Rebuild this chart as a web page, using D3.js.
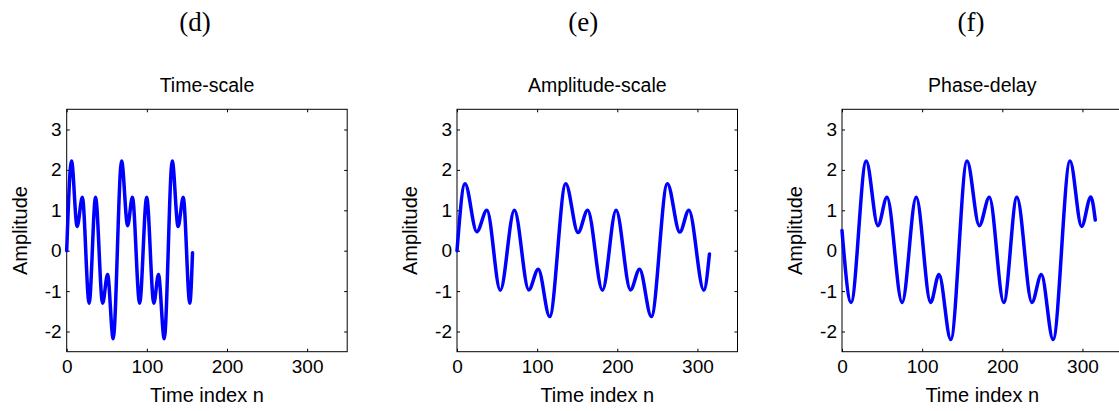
<!DOCTYPE html>
<html><head><meta charset="utf-8">
<script src="https://cdn.jsdelivr.net/npm/d3@7"></script>
<style>body{margin:0;background:#fff}svg{display:block}</style>
</head><body>
<svg id="chart" width="1119" height="411"></svg>
<script>
// ---- data ----
const panelLetters = ["(d)", "(e)", "(f)"];
const panelTitles = ["Time-scale", "Amplitude-scale", "Phase-delay"];
const xLabel = "Time index n";
const yLabel = "Amplitude";
const xTicks = [0, 100, 200, 300];
const yTicks = [-2, -1, 0, 1, 2, 3];
const xDomain = [0, 350];
const yDomain = [-2.5, 3.5];

// Time-scale series
const timeScaleN = [0, 6, 13, 19.5, 28, 36, 44.8, 51, 58, 68.5, 76, 82, 91, 99.8, 108.7, 114.5, 121.7, 131.7, 139, 145.4, 153.6, 157];
const timeScaleV = [0, 2.22, 0.6, 1.32, -1.3, 1.32, -1.3, -0.59, -2.18, 2.22, 0.62, 1.32, -1.3, 1.32, -1.3, -0.59, -2.18, 2.22, 0.6, 1.32, -1.3, -0.05];

// Amplitude-scale series
const ampScaleN = [0, 10, 24.7, 37.3, 54, 71.6, 89.6, 101.4, 115.6, 135.7, 151, 163, 181.5, 198.5, 216.5, 227.8, 242.5, 262.5, 278, 289.3, 308, 315];
const ampScaleV = [0, 1.66, 0.47, 1.0, -0.98, 1.0, -0.97, -0.46, -1.63, 1.66, 0.45, 1.0, -0.98, 1.0, -0.97, -0.46, -1.63, 1.66, 0.46, 1.0, -0.98, -0.08];

// Phase-delay series
const phaseN = [0, 11.3, 30.2, 44.8, 56.1, 75, 92.6, 110.6, 121, 135.7, 156, 171.3, 183.8, 201.9, 218.2, 237, 248.7, 263.4, 284.5, 299, 310.5, 316];
const phaseV = [0.5, -1.28, 2.22, 0.62, 1.32, -1.28, 1.32, -1.28, -0.59, -2.2, 2.22, 0.62, 1.32, -1.28, 1.32, -1.28, -0.59, -2.2, 2.22, 0.6, 1.33, 0.76];

const seriesN = [timeScaleN, ampScaleN, phaseN];
const seriesV = [timeScaleV, ampScaleV, phaseV];

// ---- layout ----
const panelLeft = [66.7, 457, 842];
const letterX = [195, 583.3, 971];
const plotTop = 109.3, plotW = 280.5, plotH = 242.4;
const sansFont = "'Liberation Sans', Arial, Helvetica, sans-serif";
const serifFont = "'Liberation Serif', 'Times New Roman', serif";

const svg = d3.select("#chart");
svg.append("rect").attr("width", 1119).attr("height", 411).attr("fill", "#fff");

panelTitles.forEach((title, i) => {
  // letter label above
  svg.append("text")
    .attr("x", letterX[i]).attr("y", 31)
    .attr("text-anchor", "middle")
    .attr("font-family", serifFont).attr("font-size", 27)
    .attr("fill", "#000")
    .text(panelLetters[i]);

  const g = svg.append("g").attr("transform", `translate(${panelLeft[i]},${plotTop})`);
  const x = d3.scaleLinear().domain(xDomain).range([0, plotW]);
  const y = d3.scaleLinear().domain(yDomain).range([plotH, 0]);
  const fmt = d => String(d);

  const styleAxis = sel => {
    sel.select(".domain").remove();
    sel.selectAll(".tick line").attr("stroke", "#000").attr("stroke-width", 1);
    sel.selectAll(".tick text").attr("font-family", sansFont).attr("font-size", 19).attr("fill", "#000");
  };

  g.append("g").attr("transform", `translate(0,${plotH})`)
    .call(d3.axisBottom(x).tickValues(xTicks).tickFormat(fmt).tickSizeInner(-3).tickSizeOuter(0).tickPadding(8))
    .call(styleAxis);
  g.append("g")
    .call(d3.axisTop(x).tickValues(xTicks).tickFormat("").tickSizeInner(-3).tickSizeOuter(0))
    .call(styleAxis);
  g.append("g")
    .call(d3.axisLeft(y).tickValues(yTicks).tickFormat(fmt).tickSizeInner(-3).tickSizeOuter(0).tickPadding(5))
    .call(styleAxis);
  g.append("g").attr("transform", `translate(${plotW},0)`)
    .call(d3.axisRight(y).tickValues(yTicks).tickFormat("").tickSizeInner(-3).tickSizeOuter(0))
    .call(styleAxis);

  // frame
  g.append("rect").attr("x", 0).attr("y", 0).attr("width", plotW).attr("height", plotH)
    .attr("fill", "none").attr("stroke", "#000").attr("stroke-width", 1);

  // curve
  const pts = seriesN[i].map((n, k) => [n, seriesV[i][k]]);
  const line = d3.line().x(d => x(d[0])).y(d => y(d[1])).curve(d3.curveMonotoneX);
  g.append("path").datum(pts).attr("d", line)
    .attr("fill", "none").attr("stroke", "#0000ff").attr("stroke-width", 3.5)
    .attr("stroke-linejoin", "round").attr("stroke-linecap", "round");

  // title
  g.append("text").attr("x", plotW / 2).attr("y", 91.7 - plotTop)
    .attr("text-anchor", "middle").attr("font-family", sansFont).attr("font-size", 19.5)
    .attr("fill", "#000").text(title);

  // x label
  g.append("text").attr("x", plotW / 2).attr("y", 401.7 - plotTop)
    .attr("text-anchor", "middle").attr("font-family", sansFont).attr("font-size", 20)
    .attr("fill", "#000").text(xLabel);

  // y label
  g.append("text").attr("transform", `translate(-40,${plotH / 2}) rotate(-90)`)
    .attr("text-anchor", "middle").attr("font-family", sansFont).attr("font-size", 20)
    .attr("fill", "#000").text(yLabel);
});
</script>
</body></html>
